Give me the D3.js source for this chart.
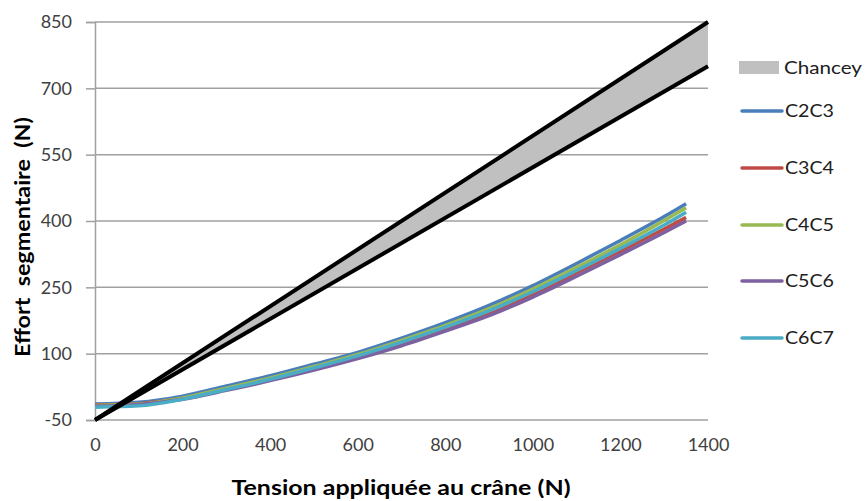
<!DOCTYPE html>
<html><head><meta charset="utf-8">
<script src="https://cdn.jsdelivr.net/npm/d3@7"></script>
<style>body{margin:0;background:#fff}svg{display:block}</style>
</head><body>
<svg id="c" width="866" height="501"></svg>
<script>
const xTicks = [0,200,400,600,800,1000,1200,1400];
const yTicks = [-50,100,250,400,550,700,850];
const xs = [0,100,200,300,400,500,600,700,800,900,1000,1100,1200,1300,1350];
const C2C3 = [-14,-10,4,27,50,76,103,135,170,209,254,304,356,410,439];
const C3C4 = [-16,-13,-1,20,43,68,93,123,156,192,235,283,332,382,408];
const C4C5 = [-17,-14,0,22,45,71,98,130,164,202,246,295,346,401,430];
const C5C6 = [-19,-15,-3,17,39,63,89,118,151,186,228,275,324,374,400];
const C6C7 = [-21,-18,-3,19,42,68,95,126,160,197,240,288,338,391,420];
const chanceyX = [0,1400];
const chanceyLow = [-50,750];
const chanceyHigh = [-50,850];
const seriesNames = ["C2C3","C3C4","C4C5","C5C6","C6C7"];
const seriesData = [C2C3,C3C4,C4C5,C5C6,C6C7];
const colors = ["#4A7EBB","#BE4B48","#98B954","#7D60A0","#4BACC6"];

const svg = d3.select("#c");
const x = d3.scaleLinear().domain([0,1400]).range([95,708]);
const y = d3.scaleLinear().domain([-50,850]).range([420,22]);
const fmt = d => String(d);

// gridlines
svg.append("g").selectAll("line").data(yTicks).join("line")
  .attr("x1",x(0)).attr("x2",x(1400)).attr("y1",d=>y(d)).attr("y2",d=>y(d))
  .attr("stroke","#a0a0a0").attr("stroke-width",1.5);

// y axis
const yAxis = svg.append("g").attr("transform",`translate(${x(0)},0)`)
  .call(d3.axisLeft(y).tickValues(yTicks).tickFormat(fmt).tickSize(9).tickPadding(14));
yAxis.select(".domain").attr("stroke","#a0a0a0").attr("stroke-width",1.5);
yAxis.selectAll(".tick line").attr("stroke","#a0a0a0").attr("stroke-width",1.5);
yAxis.selectAll("text").attr("font-family","Lato").attr("font-size",18).attr("fill","#404040");

// x axis
const xAxis = svg.append("g").attr("transform",`translate(0,${y(-50)})`)
  .call(d3.axisBottom(x).tickValues(xTicks).tickFormat(fmt).tickSize(0).tickPadding(18));
xAxis.select(".domain").remove();
xAxis.selectAll("text").attr("font-family","Lato").attr("font-size",18).attr("fill","#404040");

// series
const line = d3.line().x((d,i)=>x(xs[i])).y(d=>y(d)).curve(d3.curveMonotoneX);
seriesData.forEach((s,k)=>{
  svg.append("path").datum(s).attr("d",line).attr("fill","none")
    .attr("stroke",colors[k]).attr("stroke-width",3.5).attr("stroke-linejoin","round");
});

// Chancey band
const area = d3.area().x((d,i)=>x(chanceyX[i])).y0((d,i)=>y(chanceyLow[i])).y1(d=>y(d));
svg.append("path").datum(chanceyHigh).attr("d",area).attr("fill","#c0c0c0");
const cl = d3.line().x((d,i)=>x(chanceyX[i])).y(d=>y(d));
[chanceyLow,chanceyHigh].forEach(s=>{
  svg.append("path").datum(s).attr("d",cl).attr("fill","none").attr("stroke","#000").attr("stroke-width",4);
});

// titles
svg.append("text").attr("x",401).attr("y",495).attr("text-anchor","middle")
  .attr("font-family","Lato").attr("font-weight","bold").attr("font-size",20).attr("fill","#000")
  .attr("textLength",339).attr("lengthAdjust","spacingAndGlyphs")
  .text("Tension appliquée au crâne (N)");
svg.append("text").attr("transform","translate(30,237) rotate(-90)").attr("text-anchor","middle")
  .attr("font-family","Lato").attr("font-weight","bold").attr("font-size",20).attr("fill","#000")
  .attr("textLength",240).attr("lengthAdjust","spacingAndGlyphs")
  .style("white-space","pre").text("Effort  segmentaire  (N)");

// legend
const lg = svg.append("g");
lg.append("rect").attr("x",739).attr("y",61).attr("width",40).attr("height",13).attr("fill","#c0c0c0");
lg.append("text").attr("x",784).attr("y",68).attr("dy","0.35em").attr("font-family","Lato").attr("font-size",18).attr("fill","#202020")
  .attr("textLength",78).attr("lengthAdjust","spacingAndGlyphs").text("Chancey");
const ly = [111,168,225,281,338];
seriesNames.forEach((n,k)=>{
  lg.append("line").attr("x1",742).attr("x2",782).attr("y1",ly[k]).attr("y2",ly[k])
    .attr("stroke",colors[k]).attr("stroke-width",3.5).attr("stroke-linecap","round");
  lg.append("text").attr("x",785).attr("y",ly[k]).attr("dy","0.35em").attr("font-family","Lato").attr("font-size",18).attr("fill","#202020")
    .attr("textLength",49).attr("lengthAdjust","spacingAndGlyphs").text(n);
});
</script>
</body></html>
